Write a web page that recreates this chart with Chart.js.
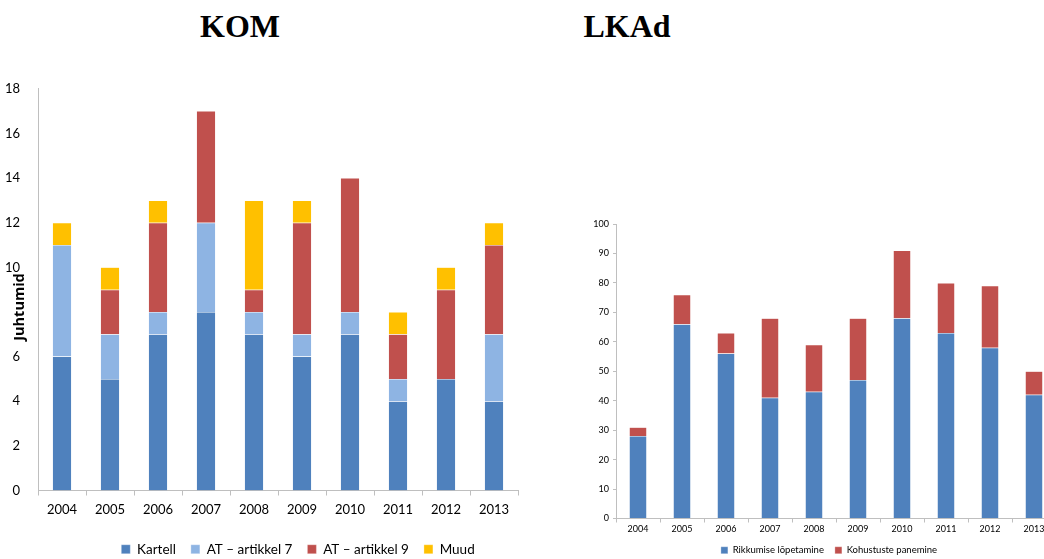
<!DOCTYPE html>
<html>
<head>
<meta charset="utf-8">
<script src="https://cdn.jsdelivr.net/npm/chart.js@4"></script>
<style>
  html, body { margin: 0; padding: 0; background: #fff; overflow: hidden; width: 1044px; height: 559px; }
  .title { position: absolute; top: 8px; font: bold 32px "Liberation Serif", "Times New Roman", serif; color: #000; transform: translateX(-50%); }
  #komBox { position: absolute; left: 0; top: 71px; width: 596px; height: 495px; }
  #lkaBox { position: absolute; left: 580px; top: 210px; width: 498px; height: 355px; }
</style>
</head>
<body>
<div class="title" style="left:240px">KOM</div>
<div class="title" style="left:627px">LKAd</div>
<div id="komBox"><canvas id="komChart"></canvas></div>
<div id="lkaBox"><canvas id="lkaChart"></canvas></div>
<script>
const years = ['2004', '2005', '2006', '2007', '2008', '2009', '2010', '2011', '2012', '2013'];

// KOM
const kartell = [6, 5, 7, 8, 7, 6, 7, 4, 5, 4];
const atArtikkel7 = [5, 2, 1, 4, 1, 1, 1, 1, 0, 3];
const atArtikkel9 = [0, 2, 4, 5, 1, 5, 6, 2, 4, 4];
const muud = [1, 1, 1, 0, 4, 1, 0, 1, 1, 1];

// LKAd
const rikkumiseLopetamine = [28, 66, 56, 41, 43, 47, 68, 63, 58, 42];
const kohustustePanemine = [3, 10, 7, 27, 16, 21, 23, 17, 21, 8];

const axisColor = '#bfbfbf';
const fontFamily = 'Lato, "Open Sans", sans-serif';

function barSet(label, data, color) {
  return {
    label: label,
    data: data,
    backgroundColor: color,
    borderColor: 'rgba(255,255,255,0.6)',
    borderWidth: 0.5,
    barPercentage: 0.4,
    categoryPercentage: 1
  };
}

// empty right-hand axis: keeps the plot narrower than the legend row
function spacerAxis(w) {
  return {
    position: 'right',
    display: true,
    grid: { display: false },
    border: { display: false },
    ticks: { display: false },
    afterFit(scale) { scale.width = w; }
  };
}

// y axis title sits over the tick column, hiding the "8" like the original
const juhtumidTitle = {
  id: 'juhtumidTitle',
  afterDraw(chart) {
    const ctx = chart.ctx;
    ctx.save();
    ctx.translate(20, 236);
    ctx.rotate(-Math.PI / 2);
    ctx.font = 'bold 14.5px "Open Sans", sans-serif';
    const w = ctx.measureText('Juhtumid').width;
    ctx.fillStyle = '#fff';
    ctx.fillRect(-w / 2, -8, w, 16);
    ctx.fillStyle = '#000';
    ctx.textAlign = 'center';
    ctx.textBaseline = 'middle';
    ctx.fillText('Juhtumid', 0, 0);
    ctx.restore();
  }
};

new Chart(document.getElementById('komChart').getContext('2d'), {
  type: 'bar',
  data: {
    labels: years,
    datasets: [
      barSet('Kartell', kartell, '#4f81bd'),
      barSet('AT – artikkel 7', atArtikkel7, '#8eb4e3'),
      barSet('AT – artikkel 9', atArtikkel9, '#c0504d'),
      barSet('Muud', muud, '#ffc000')
    ]
  },
  options: {
    responsive: true,
    maintainAspectRatio: false,
    animation: false,
    layout: { padding: 0 },
    plugins: {
      tooltip: { enabled: false },
      legend: {
        position: 'bottom',
        labels: { boxWidth: 9, boxHeight: 9, padding: 15, color: '#000', font: { family: fontFamily, size: 13.5 } }
      }
    },
    scales: {
      x: {
        stacked: true,
        grid: { offset: true, drawOnChartArea: false, drawTicks: true, tickLength: 5, color: axisColor },
        border: { color: axisColor },
        ticks: { color: '#000', font: { family: fontFamily, size: 13 }, padding: 7, maxRotation: 0 },
        afterFit(scale) { scale.height = 37; }
      },
      y: {
        stacked: true,
        min: 0,
        max: 18,
        grid: { display: false },
        border: { color: axisColor },
        ticks: { stepSize: 2, color: '#000', font: { family: fontFamily, size: 13 }, padding: 10 },
        afterFit(scale) { scale.width = 38; }
      },
      spacer: spacerAxis(78)
    }
  },
  plugins: [juhtumidTitle]
});

new Chart(document.getElementById('lkaChart').getContext('2d'), {
  type: 'bar',
  data: {
    labels: years,
    datasets: [
      barSet('Rikkumise lõpetamine', rikkumiseLopetamine, '#4f81bd'),
      barSet('Kohustuste panemine', kohustustePanemine, '#c0504d')
    ]
  },
  options: {
    responsive: true,
    maintainAspectRatio: false,
    animation: false,
    layout: { padding: { top: 14, right: 0, bottom: 0, left: 0 } },
    plugins: {
      tooltip: { enabled: false },
      legend: {
        position: 'bottom',
        labels: { boxWidth: 7, boxHeight: 7, padding: 11, color: '#000', font: { family: fontFamily, size: 9.5 } }
      }
    },
    scales: {
      x: {
        stacked: true,
        grid: { offset: true, drawOnChartArea: false, drawTicks: true, tickLength: 4, color: axisColor },
        border: { color: axisColor },
        ticks: { color: '#000', font: { family: fontFamily, size: 9 }, padding: 1, maxRotation: 0 },
        afterFit(scale) { scale.height = 16; }
      },
      y: {
        stacked: true,
        min: 0,
        max: 100,
        grid: { drawOnChartArea: false, drawTicks: true, tickLength: 3, color: axisColor },
        border: { color: axisColor },
        ticks: { stepSize: 10, color: '#000', font: { family: fontFamily, size: 9 }, padding: 4 },
        afterFit(scale) { scale.width = 36; }
      },
      spacer: spacerAxis(22)
    }
  }
});
</script>
</body>
</html>
